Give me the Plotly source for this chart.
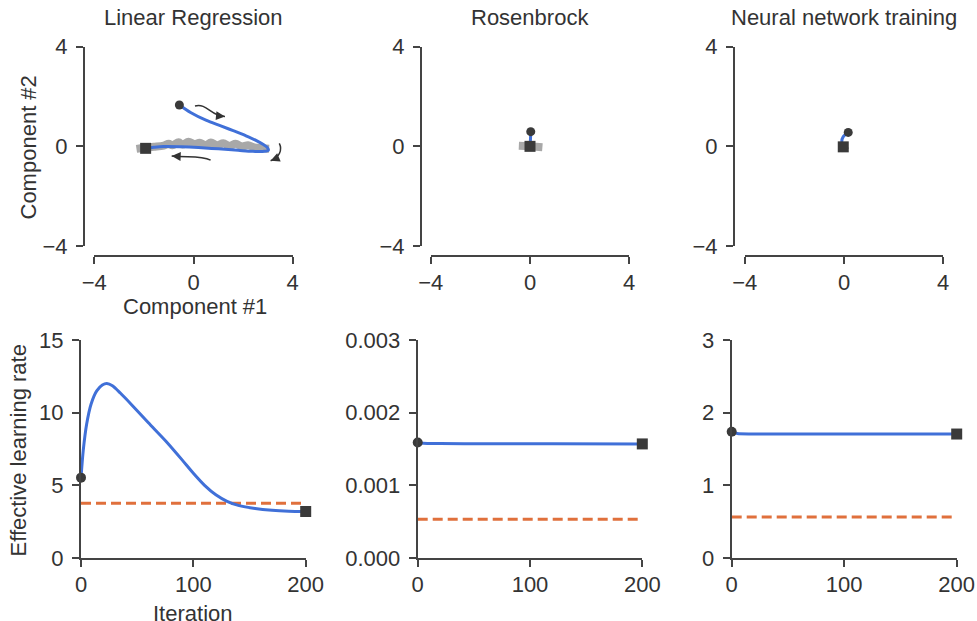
import plotly.graph_objects as go

# ---------------- data ----------------
titles = ["Linear Regression", "Rosenbrock", "Neural network training"]

# Top row: trajectories in the 2-D projection (Component #1, Component #2)
lr_traj_x = [-0.57, -0.1, 0.5, 1.1, 1.6, 2.1, 2.5, 2.8, 2.98, 3.02, 2.85, 2.4, 1.8, 1.0, 0.2, -0.5, -1.2, -1.6, -1.93]
lr_traj_y = [1.66, 1.35, 1.05, 0.82, 0.63, 0.43, 0.25, 0.08, -0.05, -0.15, -0.2, -0.2, -0.16, -0.1, -0.05, -0.02, -0.01, -0.04, -0.08]
lr_sgd_x = [-2.3, -2.0, -1.6, -1.2, -1.0, -0.85, -0.6, -0.45, -0.2, 0.05, 0.25, 0.5, 0.7, 0.95, 1.2, 1.45, 1.7, 1.95, 2.2, 2.45, 2.7, 2.9, 3.05]
lr_sgd_y = [-0.1, -0.06, -0.02, 0.03, 0.1, 0.04, 0.16, 0.07, 0.18, 0.09, 0.14, 0.05, 0.15, 0.04, 0.12, 0.02, 0.1, 0.0, 0.04, -0.04, -0.06, -0.09, -0.1]

rb_traj_x = [0.03, 0.02, 0.0]
rb_traj_y = [0.59, 0.3, 0.0]
rb_sgd_x = [-0.45, -0.2, 0.0, 0.25, 0.5]
rb_sgd_y = [0.02, 0.01, 0.0, -0.02, -0.04]

nn_traj_x = [0.17, -0.03, -0.09, -0.03]
nn_traj_y = [0.56, 0.39, 0.19, -0.02]
nn_sgd_x = [0.0, 0.06]
nn_sgd_y = [-0.05, -0.16]

# Bottom row: effective learning rate vs iteration
lr_iter = [0, 2, 5, 9, 14, 19, 23, 28, 35, 45, 60, 76, 90, 100, 110, 120, 130, 140, 155, 170, 185, 200]
lr_eff = [5.53, 7.4, 9.2, 10.6, 11.5, 11.9, 12.0, 11.85, 11.35, 10.55, 9.3, 8.0, 6.75, 5.83, 5.0, 4.35, 3.9, 3.62, 3.4, 3.28, 3.22, 3.2]
lr_const = 3.76

rb_iter = [0, 5, 20, 60, 120, 200]
rb_eff = [0.00159, 0.001578, 0.001575, 0.001573, 0.001571, 0.00157]
rb_const = 0.000532

nn_iter = [0, 5, 20, 60, 120, 200]
nn_eff = [1.738, 1.712, 1.707, 1.706, 1.706, 1.706]
nn_const = 0.564

top_ticks = [-4, 0, 4]
lr_yticks = [0, 5, 10, 15]
rb_yticks = [0.0, 0.001, 0.002, 0.003]
nn_yticks = [0, 1, 2, 3]
iter_ticks = [0, 100, 200]

# ---------------- style ----------------
W, H = 977, 621
OFF = 0
BLUE = "#4070d8"
ORANGE = "#e0703c"
DARK = "#3a3a3a"
GRAY = "#a8a8a8"
AX = "#444444"
TXT = "#333333"
FONT = "Liberation Sans, Arial, Helvetica, sans-serif"
FS = 22


def px(x):
    return (x - OFF) / W


def py(y):
    return 1 - (y - OFF) / H


fig = go.Figure()


def traj(xs, ys, sx, sy, ax):
    xa, ya = "x" + ax, "y" + ax
    fig.add_trace(go.Scatter(x=sx, y=sy, mode="lines", line=dict(color=GRAY, width=8, shape="spline"),
                             xaxis=xa, yaxis=ya, showlegend=False, cliponaxis=False))
    fig.add_trace(go.Scatter(x=xs, y=ys, mode="lines", line=dict(color=BLUE, width=3, shape="spline", smoothing=1.0),
                             xaxis=xa, yaxis=ya, showlegend=False, cliponaxis=False))
    fig.add_trace(go.Scatter(x=[xs[0]], y=[ys[0]], mode="markers", marker=dict(color=DARK, size=9, symbol="circle"),
                             xaxis=xa, yaxis=ya, showlegend=False, cliponaxis=False))
    fig.add_trace(go.Scatter(x=[xs[-1]], y=[ys[-1]], mode="markers", marker=dict(color=DARK, size=11, symbol="square"),
                             xaxis=xa, yaxis=ya, showlegend=False, cliponaxis=False))


def eff(xs, ys, const, ax):
    xa, ya = "x" + ax, "y" + ax
    fig.add_trace(go.Scatter(x=[xs[0], xs[-1]], y=[const, const], mode="lines",
                             line=dict(color=ORANGE, width=3, dash="10px,5px"),
                             xaxis=xa, yaxis=ya, showlegend=False, cliponaxis=False))
    fig.add_trace(go.Scatter(x=xs, y=ys, mode="lines", line=dict(color=BLUE, width=3, shape="spline", smoothing=0.7),
                             xaxis=xa, yaxis=ya, showlegend=False, cliponaxis=False))
    fig.add_trace(go.Scatter(x=[xs[0]], y=[ys[0]], mode="markers", marker=dict(color=DARK, size=10, symbol="circle"),
                             xaxis=xa, yaxis=ya, showlegend=False, cliponaxis=False))
    fig.add_trace(go.Scatter(x=[xs[-1]], y=[ys[-1]], mode="markers", marker=dict(color=DARK, size=11, symbol="square"),
                             xaxis=xa, yaxis=ya, showlegend=False, cliponaxis=False))


traj(lr_traj_x, lr_traj_y, lr_sgd_x, lr_sgd_y, "")
traj(rb_traj_x, rb_traj_y, rb_sgd_x, rb_sgd_y, "2")
traj(nn_traj_x, nn_traj_y, nn_sgd_x, nn_sgd_y, "3")
eff(lr_iter, lr_eff, lr_const, "4")
eff(rb_iter, rb_eff, rb_const, "5")
eff(nn_iter, nn_eff, nn_const, "6")

common = dict(showgrid=False, zeroline=False, showline=True, linecolor=AX, linewidth=2,
              ticks="outside", ticklen=7, tickwidth=2, tickcolor=AX, automargin=False,
              tickfont=dict(family=FONT, size=FS, color=TXT), fixedrange=True)

layout = dict(width=W, height=H, margin=dict(l=0, r=0, t=0, b=0, pad=0, autoexpand=False),
              paper_bgcolor="white", plot_bgcolor="white", showlegend=False, hovermode=False)

# geometry (screen pixels)
top_x = [(94.3, 292.7), (430.8, 629.2), (744.8, 943.2)]
top_spine_x = [84, 421, 734]
top_y = (46.7, 246.0)
top_spine_y = 255.5
bot_x = [(81, 305.7), (417.7, 642.3), (731.7, 956.7)]
bot_y = (340, 558)

names = ["", "2", "3"]
for i, n in enumerate(names):
    layout["xaxis" + n] = dict(common, domain=[px(top_x[i][0]), px(top_x[i][1])], range=[-4.0001, 4.0001],
                               tickvals=top_ticks, anchor="free", position=py(top_spine_y), ticklabelstandoff=0)
    layout["yaxis" + n] = dict(common, domain=[py(top_y[1]), py(top_y[0])], range=[-4.0001, 4.0001],
                               tickvals=top_ticks, anchor="free", position=px(top_spine_x[i]), ticklabelstandoff=4)

bot_names = ["4", "5", "6"]
yt = [(lr_yticks, [0, 15.0001], None), (rb_yticks, [0, 0.0030001], ".3f"), (nn_yticks, [0, 3.0001], None)]
for i, n in enumerate(bot_names):
    layout["xaxis" + n] = dict(common, domain=[px(bot_x[i][0]), px(bot_x[i][1])], range=[0, 200.0001],
                               tickvals=iter_ticks, anchor="y" + n, ticklabelstandoff=-1)
    yd = dict(common, domain=[py(bot_y[1]), py(bot_y[0])], range=yt[i][1],
              tickvals=yt[i][0], anchor="x" + n, ticklabelstandoff=4)
    if yt[i][2]:
        yd["tickformat"] = yt[i][2]
    layout["yaxis" + n] = yd

fig.update_layout(**layout)

ann = []
centers = [193.5, 530, 844]
for c, t in zip(centers, titles):
    ann.append(dict(text=t, x=px(c), y=py(17), xref="paper", yref="paper", showarrow=False,
                    xanchor="center", yanchor="middle", font=dict(family=FONT, size=FS, color=TXT)))
ann.append(dict(text="Component #1", x=px(195), y=py(306), xref="paper", yref="paper", showarrow=False,
                xanchor="center", yanchor="middle", font=dict(family=FONT, size=FS, color=TXT)))
ann.append(dict(text="Component #2", x=px(28.5), y=py(148), xref="paper", yref="paper", showarrow=False,
                textangle=-90, xanchor="center", yanchor="middle", font=dict(family=FONT, size=FS, color=TXT)))
ann.append(dict(text="Effective learning rate", x=px(17.5), y=py(451), xref="paper", yref="paper", showarrow=False,
                textangle=-90, xanchor="center", yanchor="middle", font=dict(family=FONT, size=FS, color=TXT)))
ann.append(dict(text="Iteration", x=px(193), y=py(613), xref="paper", yref="paper", showarrow=False,
                xanchor="center", yanchor="middle", font=dict(family=FONT, size=FS, color=TXT)))

# direction arrows in the linear-regression panel (curved bodies + heads)
arrow_paths = [
    "M 0.06,1.62 C 0.55,1.75 0.7,1.2 1.27,1.2",
    "M 3.46,0.12 C 3.6,-0.15 3.45,-0.45 3.11,-0.58",
    "M 0.69,-0.55 C 0.3,-0.35 -0.2,-0.45 -0.88,-0.39",
]
arrow_heads = [((1.27, 1.2), (1.05, 1.22)), ((3.11, -0.58), (3.3, -0.5)), ((-0.88, -0.39), (-0.65, -0.4))]
shapes = []
for p in arrow_paths:
    shapes.append(dict(type="path", path=p, xref="x", yref="y", line=dict(color="#333333", width=1.5)))
for (tip, tail) in arrow_heads:
    ann.append(dict(x=tip[0], y=tip[1], ax=tail[0], ay=tail[1], xref="x", yref="y", axref="x", ayref="y",
                    text="", showarrow=True, arrowhead=2, arrowsize=1.2, arrowwidth=1.5, arrowcolor="#333333"))

fig.update_layout(annotations=ann, shapes=shapes)
fig.write_html("out.html", config={"displayModeBar": False, "staticPlot": True},
               post_script="document.body.style.margin='0';document.body.style.overflow='hidden';")
